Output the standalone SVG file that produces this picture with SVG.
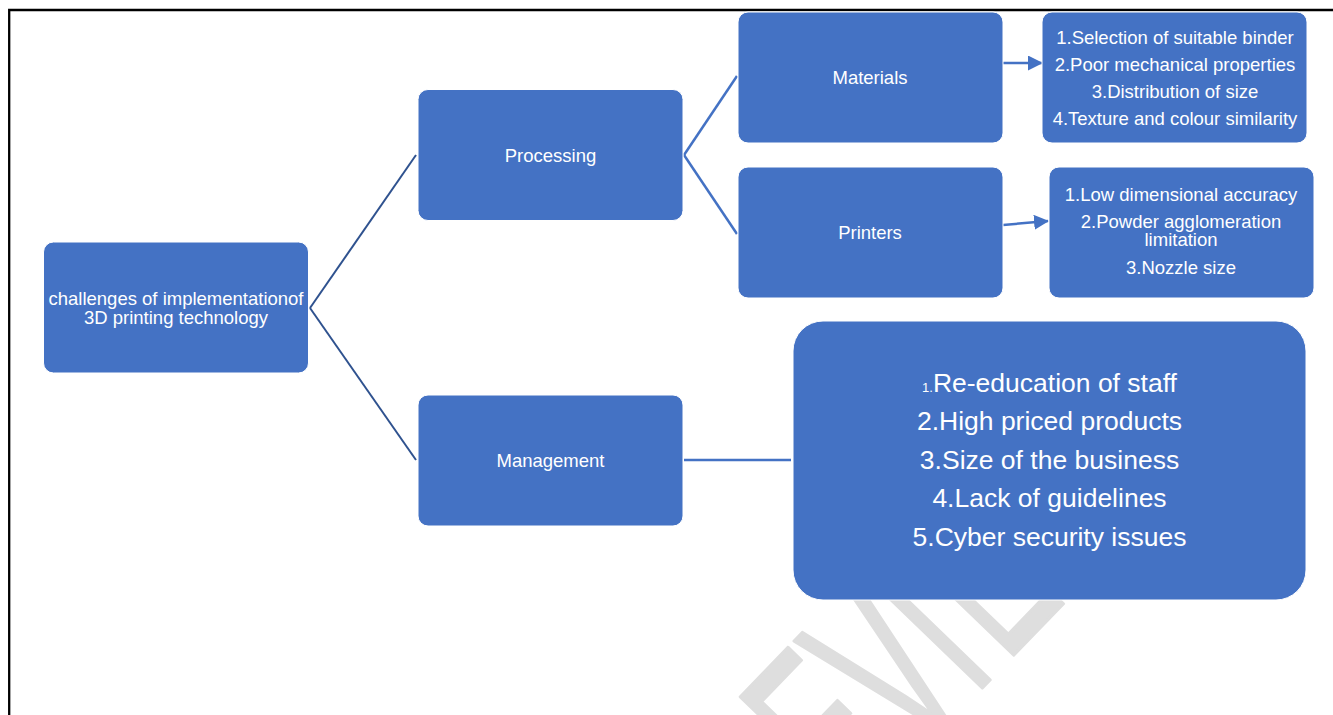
<svg xmlns="http://www.w3.org/2000/svg" width="1333" height="715" viewBox="0 0 1333 715">
  <defs>
    <style>
      .box { fill: #4472C4; stroke: #ffffff; stroke-width: 1; }
      .lbl { font-family: "Liberation Sans", Arial, sans-serif; font-size: 18.5px; fill: #ffffff; text-anchor: middle; }
      .big { font-family: "Liberation Sans", Arial, sans-serif; font-size: 26.5px; fill: #ffffff; text-anchor: middle; }
      .tree { stroke: #2F528F; stroke-width: 2; fill: none; }
      .link { stroke: #4472C4; stroke-width: 2.5; fill: none; }
      .wm { font-family: "Liberation Sans", Arial, sans-serif; font-size: 244px; fill: #dedede; stroke: #dedede; stroke-width: 3; stroke-linejoin: round; }
    </style>
    <marker id="arrow" markerWidth="6" markerHeight="6" refX="5.6" refY="3" orient="auto" markerUnits="strokeWidth">
      <path d="M0,0 L6,3 L0,6 Z" fill="#4472C4"/>
    </marker>
  </defs>

  <rect width="1333" height="715" fill="#ffffff"/>

  <!-- page frame: top and left rules -->
  <path d="M9.2,715 V10 H1333" fill="none" stroke="#000000" stroke-width="2.3"/>

  <!-- background watermark -->
  <g id="watermark" transform="translate(837.6,837.6) rotate(-46) scale(0.55,1)">
    <text class="wm" vector-effect="non-scaling-stroke"><tspan x="40" y="0">E</tspan><tspan x="200" y="0">V</tspan><tspan x="355" y="0">I</tspan><tspan x="440" y="0">E</tspan></text>
  </g>

  <!-- connectors -->
  <g id="connectors">
    <line class="tree" x1="310" y1="308" x2="416" y2="155"/>
    <line class="tree" x1="310" y1="308" x2="416" y2="460"/>
    <line class="link" x1="684" y1="155" x2="737" y2="76"/>
    <line class="link" x1="684" y1="155" x2="737" y2="234"/>
    <line class="link" x1="684" y1="460" x2="791" y2="460"/>
    <line class="link" x1="1003" y1="63" x2="1042" y2="63" marker-end="url(#arrow)"/>
    <line class="link" x1="1003" y1="225" x2="1048" y2="221" marker-end="url(#arrow)"/>
  </g>

  <!-- root -->
  <g id="node-root">
    <rect class="box" x="43.5" y="242" width="265" height="131" rx="10"/>
    <text class="lbl" x="176" y="305">challenges of implementationof</text>
    <text class="lbl" x="176" y="324">3D printing technology</text>
  </g>

  <g id="node-processing">
    <rect class="box" x="418" y="89.5" width="265" height="131" rx="10"/>
    <text class="lbl" x="550.5" y="161.5">Processing</text>
  </g>

  <g id="node-management">
    <rect class="box" x="418" y="395" width="265" height="131" rx="10"/>
    <text class="lbl" x="550.5" y="466.5">Management</text>
  </g>

  <g id="node-materials">
    <rect class="box" x="738" y="12" width="265" height="131" rx="10"/>
    <text class="lbl" x="870" y="83.5">Materials</text>
  </g>

  <g id="node-printers">
    <rect class="box" x="738" y="167" width="265" height="131" rx="10"/>
    <text class="lbl" x="870" y="238.5">Printers</text>
  </g>

  <g id="node-materials-issues">
    <rect class="box" x="1042" y="12" width="265" height="131" rx="10"/>
    <text class="lbl" x="1175" y="43.5">1.Selection of suitable binder</text>
    <text class="lbl" x="1175" y="70.5">2.Poor mechanical properties</text>
    <text class="lbl" x="1175" y="97.5">3.Distribution of size</text>
    <text class="lbl" x="1175" y="124.5">4.Texture and colour similarity</text>
  </g>

  <g id="node-printer-issues">
    <rect class="box" x="1049" y="167" width="265" height="131" rx="10"/>
    <text class="lbl" x="1181" y="200.5">1.Low dimensional accuracy</text>
    <text class="lbl" x="1181" y="227.5">2.Powder agglomeration</text>
    <text class="lbl" x="1181" y="245.5">limitation</text>
    <text class="lbl" x="1181" y="273.5">3.Nozzle size</text>
  </g>

  <g id="node-management-issues">
    <rect class="box" x="793" y="321" width="513" height="279" rx="30"/>
    <text class="big" x="1049.5" y="391.5"><tspan font-size="13">1.</tspan>Re-education of staff</text>
    <text class="big" x="1049.5" y="430">2.High priced products</text>
    <text class="big" x="1049.5" y="468.5">3.Size of the business</text>
    <text class="big" x="1049.5" y="507">4.Lack of guidelines</text>
    <text class="big" x="1049.5" y="545.5">5.Cyber security issues</text>
  </g>
</svg>
